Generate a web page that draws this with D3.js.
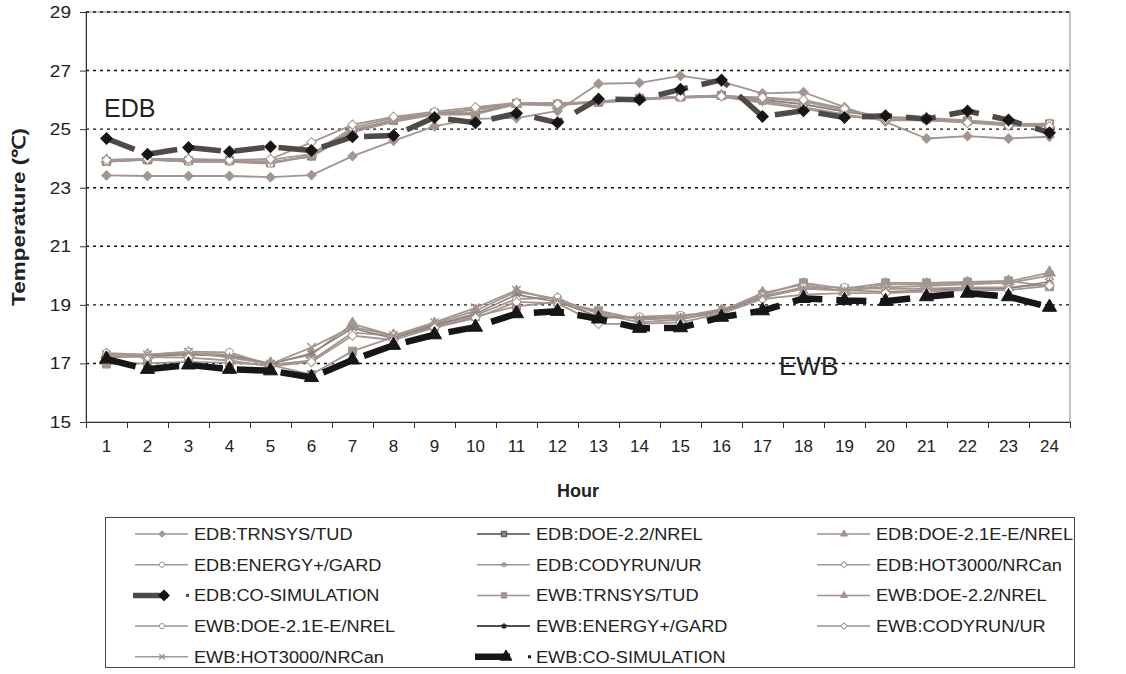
<!DOCTYPE html>
<html><head><meta charset="utf-8">
<script src="https://cdn.jsdelivr.net/npm/d3@7"></script>
<style>body{margin:0;background:#fff}svg{display:block;font-family:"Liberation Sans",Arial,sans-serif}</style>
</head><body><svg id="c" width="1126" height="674"></svg>
<script>
const hours = d3.range(1, 25);
const yTicks = [15, 17, 19, 21, 23, 25, 27, 29];

const EDB_TRNSYS  = [23.42,23.40,23.40,23.40,23.36,23.43,24.08,24.60,25.10,25.35,25.38,25.62,26.55,26.58,26.82,26.62,26.22,26.26,25.75,25.25,24.68,24.76,24.68,24.74];
const EDB_DOE22   = [23.90,23.95,23.92,23.92,23.85,24.08,24.95,25.30,25.55,25.55,25.88,25.85,25.92,26.05,26.10,26.15,26.00,25.85,25.60,25.40,25.35,25.28,25.18,25.18];
const EDB_DOE21   = [23.95,23.98,23.95,23.95,23.95,24.15,25.05,25.38,25.55,25.65,25.85,25.80,25.95,26.05,26.10,26.15,26.05,25.95,25.65,25.42,25.38,25.30,25.20,25.15];
const EDB_ENERGY  = [23.88,23.98,23.88,23.88,23.82,24.10,24.98,25.30,25.52,25.70,25.88,25.90,25.92,26.02,26.08,26.12,25.95,25.75,25.50,25.30,25.30,25.25,25.15,25.20];
const EDB_CODYRUN = [23.92,23.95,23.90,23.90,23.88,24.05,24.90,25.25,25.50,25.50,25.85,25.85,25.90,26.00,26.08,26.10,25.90,25.70,25.45,25.30,25.35,25.25,25.15,25.12];
const EDB_HOT3000 = [23.95,23.98,23.98,23.95,23.98,24.55,25.15,25.42,25.60,25.75,25.90,25.85,25.95,26.02,26.10,26.12,26.08,26.00,25.70,25.35,25.30,25.22,25.12,25.10];
const EDB_COSIM   = [24.68,24.14,24.37,24.23,24.40,24.27,24.74,24.78,25.40,25.22,25.54,25.22,26.03,26.00,26.36,26.68,25.43,25.63,25.40,25.46,25.35,25.62,25.31,24.88];

const EWB_TRNSYS  = [16.98,17.00,17.05,17.02,16.95,16.62,17.42,17.90,18.25,18.60,18.95,19.10,18.80,18.50,18.55,18.70,19.35,19.75,19.55,19.75,19.75,19.78,19.82,19.62];
const EWB_DOE22   = [17.30,17.28,17.35,17.30,17.00,17.30,18.35,17.95,18.35,18.80,19.45,19.20,18.70,18.40,18.50,18.80,19.40,19.70,19.45,19.70,19.70,19.75,19.80,20.10];
const EWB_DOE21   = [17.35,17.30,17.40,17.38,16.95,17.10,18.05,17.95,18.30,18.65,19.20,19.25,18.55,18.60,18.65,18.75,19.30,19.60,19.60,19.55,19.55,19.60,19.60,19.70];
const EWB_ENERGY  = [17.20,17.25,17.30,17.25,16.98,17.35,18.20,17.85,18.30,18.70,19.35,19.10,18.60,18.55,18.60,18.80,19.25,19.55,19.50,19.45,19.50,19.55,19.55,19.80];
const EWB_CODYRUN = [17.25,17.22,17.20,17.10,16.90,17.05,17.95,17.80,18.22,18.55,19.10,19.05,18.35,18.35,18.40,18.70,19.20,19.35,19.40,19.40,19.45,19.50,19.50,19.65];
const EWB_HOT3000 = [17.30,17.30,17.38,17.20,16.98,17.55,18.25,17.95,18.40,18.90,19.50,19.15,18.75,18.50,18.60,18.85,19.30,19.55,19.50,19.60,19.65,19.70,19.75,20.00];
const EWB_COSIM   = [17.15,16.80,16.95,16.80,16.75,16.52,17.12,17.62,17.98,18.24,18.70,18.78,18.52,18.20,18.22,18.58,18.80,19.22,19.15,19.12,19.28,19.40,19.28,18.92];

const G = "#a3958f", DK = "#4f4948", BK = "#161616";
const symX = d3.symbolTimes || d3.symbolX || d3.symbolCross;
const series = [
  {name:"EDB:TRNSYS/TUD", v:EDB_TRNSYS, c:G, w:1.8, sym:"diamond", fill:G, ms:9},
  {name:"EDB:DOE-2.2/NREL", v:EDB_DOE22, c:"#8c807d", w:1.8, sym:"square", fill:"#8c807d", ms:9, lc:DK},
  {name:"EDB:DOE-2.1E-E/NREL", v:EDB_DOE21, c:G, w:1.8, sym:"triangle", fill:G, ms:9},
  {name:"EDB:ENERGY+/GARD", v:EDB_ENERGY, c:G, w:1.8, sym:"circle", fill:"#fff", ms:8},
  {name:"EDB:CODYRUN/UR", v:EDB_CODYRUN, c:G, w:1.8, sym:"asterisk", fill:"none", ms:8},
  {name:"EDB:HOT3000/NRCan", v:EDB_HOT3000, c:G, w:1.8, sym:"diamond", fill:"#fff", ms:9},
  {name:"EDB:CO-SIMULATION", v:EDB_COSIM, c:DK, w:5.5, sym:"diamond", fill:BK, ms:11, dash:"30,14"},
  {name:"EWB:TRNSYS/TUD", v:EWB_TRNSYS, c:G, w:1.8, sym:"square", fill:G, ms:9},
  {name:"EWB:DOE-2.2/NREL", v:EWB_DOE22, c:G, w:1.8, sym:"triangle", fill:G, ms:10},
  {name:"EWB:DOE-2.1E-E/NREL", v:EWB_DOE21, c:G, w:1.8, sym:"circle", fill:"#fff", ms:9},
  {name:"EWB:ENERGY+/GARD", v:EWB_ENERGY, c:BK, w:1.6, sym:"asterisk", fill:"none", ms:8, plotC:"#8f8381"},
  {name:"EWB:CODYRUN/UR", v:EWB_CODYRUN, c:G, w:1.8, sym:"diamond", fill:"#fff", ms:9},
  {name:"EWB:HOT3000/NRCan", v:EWB_HOT3000, c:G, w:1.8, sym:"x", fill:"none", ms:9},
  {name:"EWB:CO-SIMULATION", v:EWB_COSIM, c:BK, w:6.5, sym:"triangle", fill:BK, ms:12, dash:"30,14"}
];

const svg = d3.select("#c");
const L = 86, R = 1070, T = 12, B = 422;
const x = d3.scaleBand().domain(hours).range([L, R]);
const xl = d3.scaleLinear().domain([0, 24]).range([L, R]);
const y = d3.scaleLinear().domain([15, 29]).range([B, T]);

function symPath(s, size) {
  const a = size * size;
  if (s === "diamond") return d3.symbol(d3.symbolSquare, a * 0.55)();
  if (s === "square") return d3.symbol(d3.symbolSquare, a * 0.8)();
  if (s === "triangle") return d3.symbol(d3.symbolTriangle, a * 0.6)();
  if (s === "circle") return d3.symbol(d3.symbolCircle, a * 0.6)();
  if (s === "asterisk") return d3.symbol(d3.symbolAsterisk, a * 0.6)();
  if (s === "x") return d3.symbol(symX, a * 0.6)();
}
function drawMarker(g, s, cx, cy, color) {
  return g.append("path").attr("d", symPath(s.sym, s.ms))
    .attr("transform", `translate(${cx},${cy})` + (s.sym === "diamond" ? " rotate(45)" : ""))
    .attr("stroke", color).attr("stroke-width", s.sym === "asterisk" || s.sym === "x" ? 1.4 : 1)
    .attr("fill", s.fill);
}

// frame
svg.append("rect").attr("x", L).attr("y", T).attr("width", R - L).attr("height", B - T)
  .attr("fill", "none").attr("stroke", "#8a8a8a").attr("stroke-width", 1);
// grid
svg.append("g").selectAll("line").data(yTicks.filter(d => d > 15)).join("line")
  .attr("x1", L).attr("x2", R).attr("y1", d => y(d)).attr("y2", d => y(d))
  .attr("stroke", "#111").attr("stroke-width", 1.4).attr("stroke-dasharray", "3,4");

const TXT = "#222";
// y axis
const ya = svg.append("g").attr("transform", `translate(${L},0)`)
  .call(d3.axisLeft(y).tickValues(yTicks).tickSize(6).tickPadding(9).tickSizeOuter(0));
ya.select(".domain").attr("stroke", "#333");
ya.selectAll(".tick line").attr("stroke", "#333");
ya.selectAll(".tick text").each(function () {
  const t = d3.select(this);
  const xx = +t.attr("x");
  t.attr("x", null).attr("font-size", 17).attr("fill", TXT)
    .attr("transform", `translate(${xx},0) scale(1.12,1)`);
});

// x axis
const xa = svg.append("g").attr("transform", `translate(0,${B})`)
  .call(d3.axisBottom(xl).tickValues(d3.range(0, 25)).tickSize(6).tickFormat(""));
xa.select(".domain").attr("stroke", "#333");
xa.selectAll(".tick line").attr("stroke", "#333");
const xa2 = svg.append("g").attr("transform", `translate(0,${B})`)
  .call(d3.axisBottom(x).tickSize(0).tickPadding(18));
xa2.select(".domain").remove();
xa2.selectAll("text").attr("font-size", 17).attr("fill", TXT);

// titles
svg.append("text").attr("x", 578).attr("y", 497).attr("text-anchor", "middle")
  .attr("font-size", 18).attr("font-weight", "bold").attr("fill", TXT).text("Hour");
svg.append("text").attr("transform", "translate(25,217) rotate(-90) scale(1.25,1)").attr("text-anchor", "middle")
  .attr("font-size", 18).attr("font-weight", "bold").attr("fill", TXT).text("Temperature (℃)");

// series
const line = d3.line().x((d, i) => x(hours[i]) + x.bandwidth() / 2).y(d => y(d));
const plotG = svg.append("g");
series.forEach(s => {
  const col = s.plotC || s.c;
  plotG.append("path").attr("d", line(s.v)).attr("fill", "none").attr("stroke", col)
    .attr("stroke-width", s.w).attr("stroke-dasharray", s.dash || null).attr("stroke-linejoin", "round");
  const mc = s.dash ? BK : col;
  s.v.forEach((v, i) => drawMarker(plotG, s, x(hours[i]) + x.bandwidth() / 2, y(v), mc));
});

svg.append("text").attr("x", 104).attr("y", 117).attr("font-size", 25).attr("fill", TXT).text("EDB");
svg.append("text").attr("x", 779).attr("y", 375).attr("font-size", 26).attr("fill", TXT).text("EWB");

// legend
svg.append("rect").attr("x", 105.5).attr("y", 517.5).attr("width", 969).attr("height", 150)
  .attr("fill", "#fff").attr("stroke", "#444").attr("stroke-width", 1);
const colX = [135, 477, 817], rowY0 = 534, rowH = 30.7;
series.forEach((s, k) => {
  const cx = colX[k % 3], cy = rowY0 + Math.floor(k / 3) * rowH;
  const g = svg.append("g");
  const lc = s.lc || s.c;
  if (s.dash) {
    g.append("line").attr("x1", cx - 2).attr("x2", cx + 33).attr("y1", cy).attr("y2", cy)
      .attr("stroke", lc).attr("stroke-width", s.w);
    g.append("rect").attr("x", cx + 51).attr("y", cy - 1.5).attr("width", 3).attr("height", 3).attr("fill", lc);
    drawMarker(g, Object.assign({}, s, {ms: 10}), cx + 29, cy, BK);
  } else {
    g.append("line").attr("x1", cx).attr("x2", cx + 53).attr("y1", cy).attr("y2", cy)
      .attr("stroke", lc).attr("stroke-width", 1.5);
    drawMarker(g, Object.assign({}, s, {ms: 6}), cx + 27, cy, lc);
  }
  g.append("text").attr("transform", `translate(${cx + 59},${cy + 6}) scale(1.07,1)`)
    .attr("font-size", 17).attr("fill", TXT).text(s.name);
});
</script></body></html>
